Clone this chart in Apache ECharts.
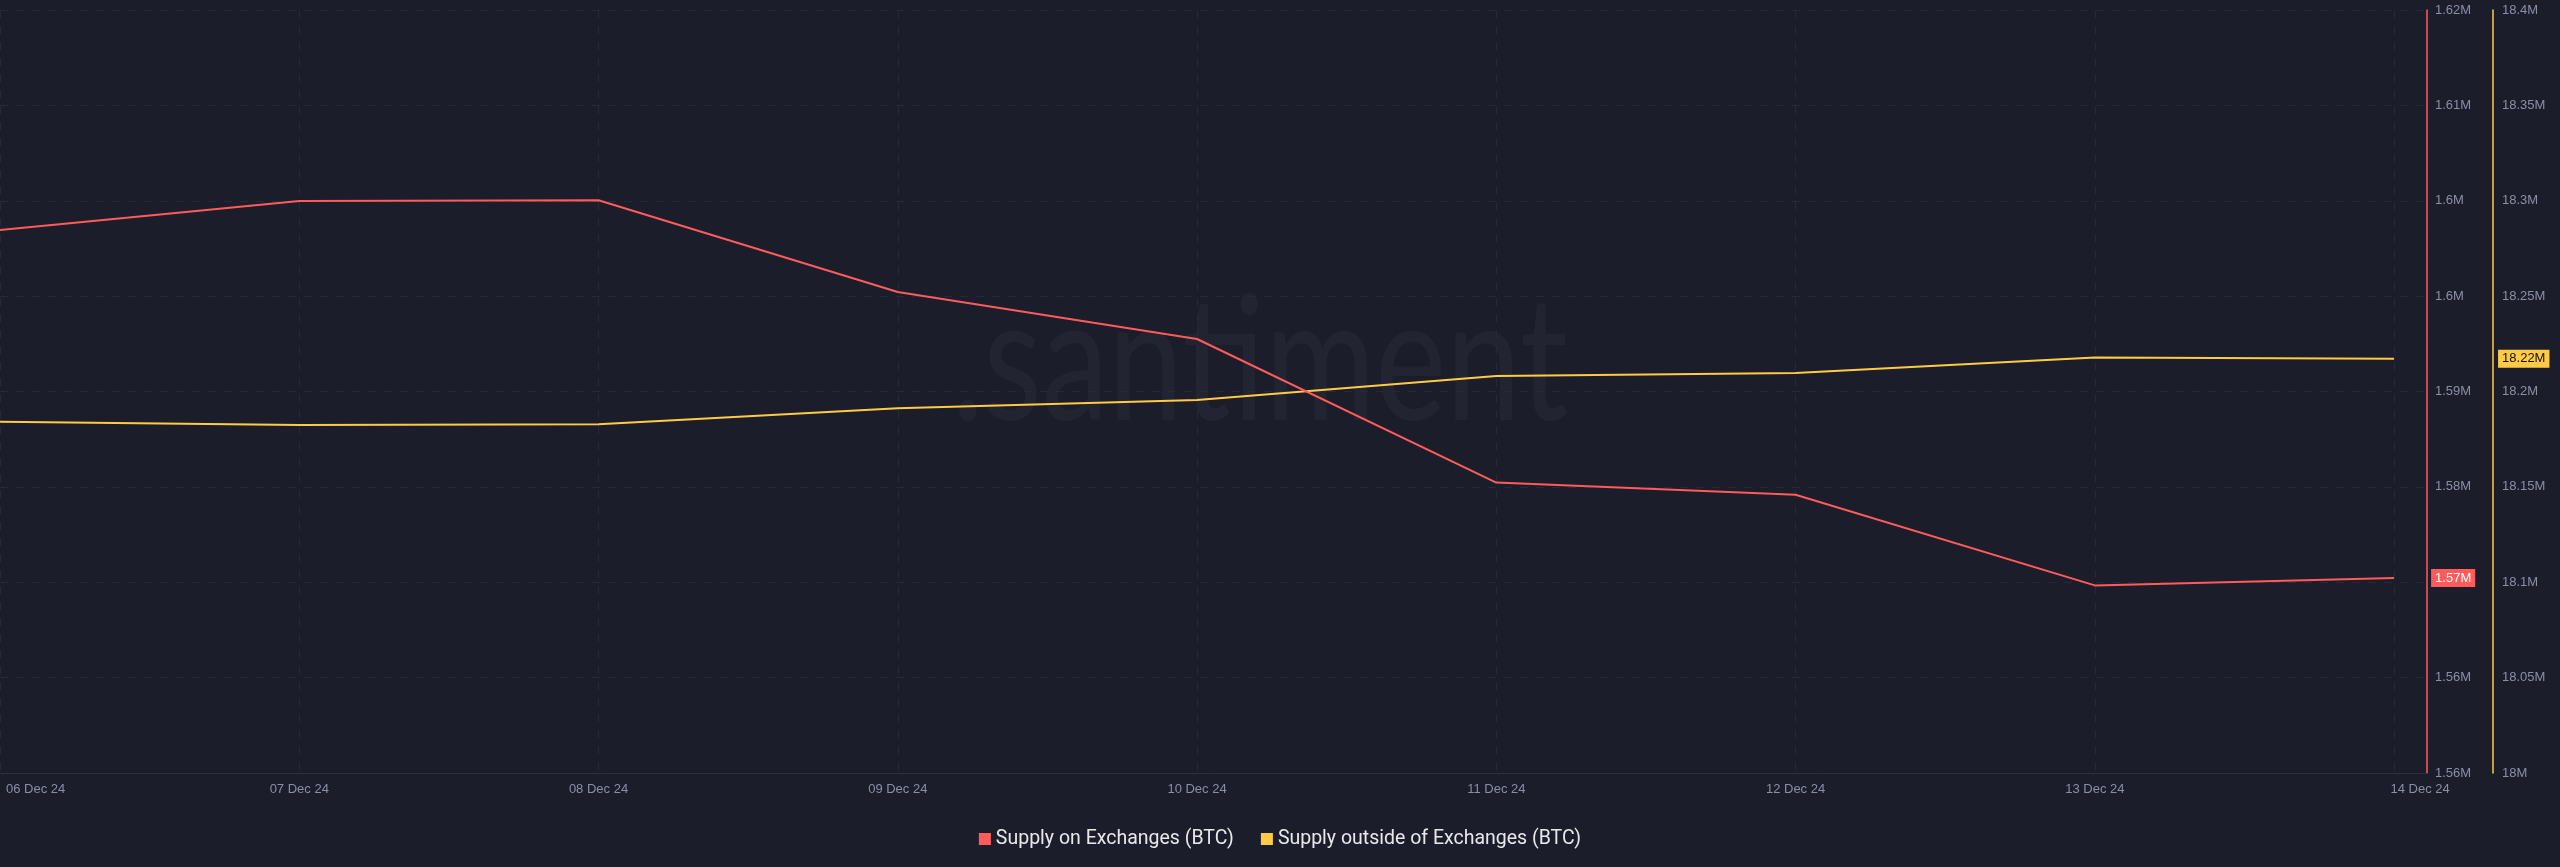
<!DOCTYPE html>
<html>
<head>
<meta charset="utf-8">
<script src="https://cdn.jsdelivr.net/npm/echarts@6/dist/echarts.min.js"></script>
<style>
html,body{margin:0;padding:0;background:#1b1d2b;}
#c{width:2560px;height:867px;}
</style>
</head>
<body>
<div id="c"></div>
<script>
// ---- data ----
const dates = ['06 Dec 24','07 Dec 24','08 Dec 24','09 Dec 24','10 Dec 24','11 Dec 24','12 Dec 24','13 Dec 24','14 Dec 24'];
const supplyOnExchanges = [1601278, 1603680, 1603738, 1596142, 1592249, 1580354, 1579344, 1571839, 1572452];
const supplyOutsideExchanges = [18184168, 18182438, 18182805, 18191193, 18195544, 18208126, 18209699, 18217772, 18217195];
const seriesNames = ['Supply on Exchanges (BTC)', 'Supply outside of Exchanges (BTC)'];
// axis ranges [min, max, interval]
const onExchangeAxis = [1556300, 1619500, 7900];
const outsideAxis = [18000000, 18400000, 50000];
const xAxisRange = [0, 8.11, 1];

const RED = '#ff5b5b';
const YELLOW = '#ffcb47';
const LABEL = '#8a8fa3';
const GRID = '#262939';

function fmtM(v) { return parseFloat((v / 1e6).toFixed(2)) + 'M'; }

const chart = echarts.init(document.getElementById('c'), null, {renderer: 'canvas'});
chart.setOption({
  backgroundColor: '#1b1d2b',
  animation: false,
  grid: {left: 0, right: 133, top: 10, bottom: 94, containLabel: false},
  graphic: [{
    type: 'text', x: 1260, y: 365, scaleX: 0.78, silent: true, z: 0,
    style: {text: '.santiment', font: '400 172px Lato', fill: 'rgba(255,255,255,0.035)', textAlign: 'center', textVerticalAlign: 'middle'}
  }],
  legend: {
    data: seriesNames, top: 824, left: 'center', icon: 'rect', itemWidth: 12, itemHeight: 12, itemGap: 27,
    textStyle: {color: '#e8e8ec', fontSize: 19.5, fontFamily: 'Roboto'}
  },
  xAxis: {
    type: 'value', min: xAxisRange[0], max: xAxisRange[1], interval: xAxisRange[2],
    axisLine: {show: true, lineStyle: {color: '#2c2f40'}},
    axisTick: {show: false},
    splitLine: {show: true, lineStyle: {color: GRID, type: [8, 8]}},
    axisLabel: {
      color: LABEL, fontSize: 13, fontFamily: 'Liberation Sans', margin: 10, alignMinLabel: 'left',
      formatter: function (v) {
        if (Math.abs(v - Math.round(v)) > 1e-6) return '';
        const i = Math.round(v);
        if (i === 0) return '{first|' + dates[i] + '}';
        if (i === dates.length - 1) return '{last|' + dates[i] + '}';
        return dates[i];
      },
      rich: {
        first: {padding: [0, 0, 0, 6], color: LABEL, fontSize: 13, fontFamily: 'Liberation Sans'},
        last: {padding: [0, 0, 0, 52], color: LABEL, fontSize: 13, fontFamily: 'Liberation Sans'}
      }
    }
  },
  yAxis: [{
    type: 'value', position: 'right', min: onExchangeAxis[0], max: onExchangeAxis[1], interval: onExchangeAxis[2],
    axisLine: {show: true, onZero: false, lineStyle: {color: RED, width: 1.5}},
    axisTick: {show: false},
    splitLine: {show: true, lineStyle: {color: GRID, type: [8, 8]}},
    axisLabel: {color: LABEL, fontSize: 13, fontFamily: 'Liberation Sans', margin: 8, formatter: fmtM}
  }, {
    type: 'value', position: 'right', offset: 66, min: outsideAxis[0], max: outsideAxis[1], interval: outsideAxis[2],
    axisLine: {show: true, onZero: false, lineStyle: {color: YELLOW, width: 1.5}},
    axisTick: {show: false},
    splitLine: {show: false},
    axisLabel: {color: LABEL, fontSize: 13, fontFamily: 'Liberation Sans', margin: 9, formatter: fmtM}
  }],
  series: [{
    name: seriesNames[0], type: 'line', yAxisIndex: 0, symbol: 'none', showSymbol: false,
    data: supplyOnExchanges.map((v, i) => [i, v]),
    lineStyle: {color: RED, width: 2}, itemStyle: {color: RED},
    endLabel: {show: true, distance: 37, formatter: p => fmtM(p.value[1]), backgroundColor: RED, color: '#ffffff',
      padding: [3, 4, 2, 4], fontSize: 13, fontFamily: 'Liberation Sans'},
    z: 3
  }, {
    name: seriesNames[1], type: 'line', yAxisIndex: 1, symbol: 'none', showSymbol: false,
    data: supplyOutsideExchanges.map((v, i) => [i, v]),
    lineStyle: {color: YELLOW, width: 2}, itemStyle: {color: YELLOW},
    endLabel: {show: true, distance: 104, formatter: p => fmtM(p.value[1]), backgroundColor: YELLOW, color: '#111111',
      padding: [3, 4, 2, 4], fontSize: 13, fontFamily: 'Liberation Sans'},
    z: 2
  }]
});
</script>
</body>
</html>
